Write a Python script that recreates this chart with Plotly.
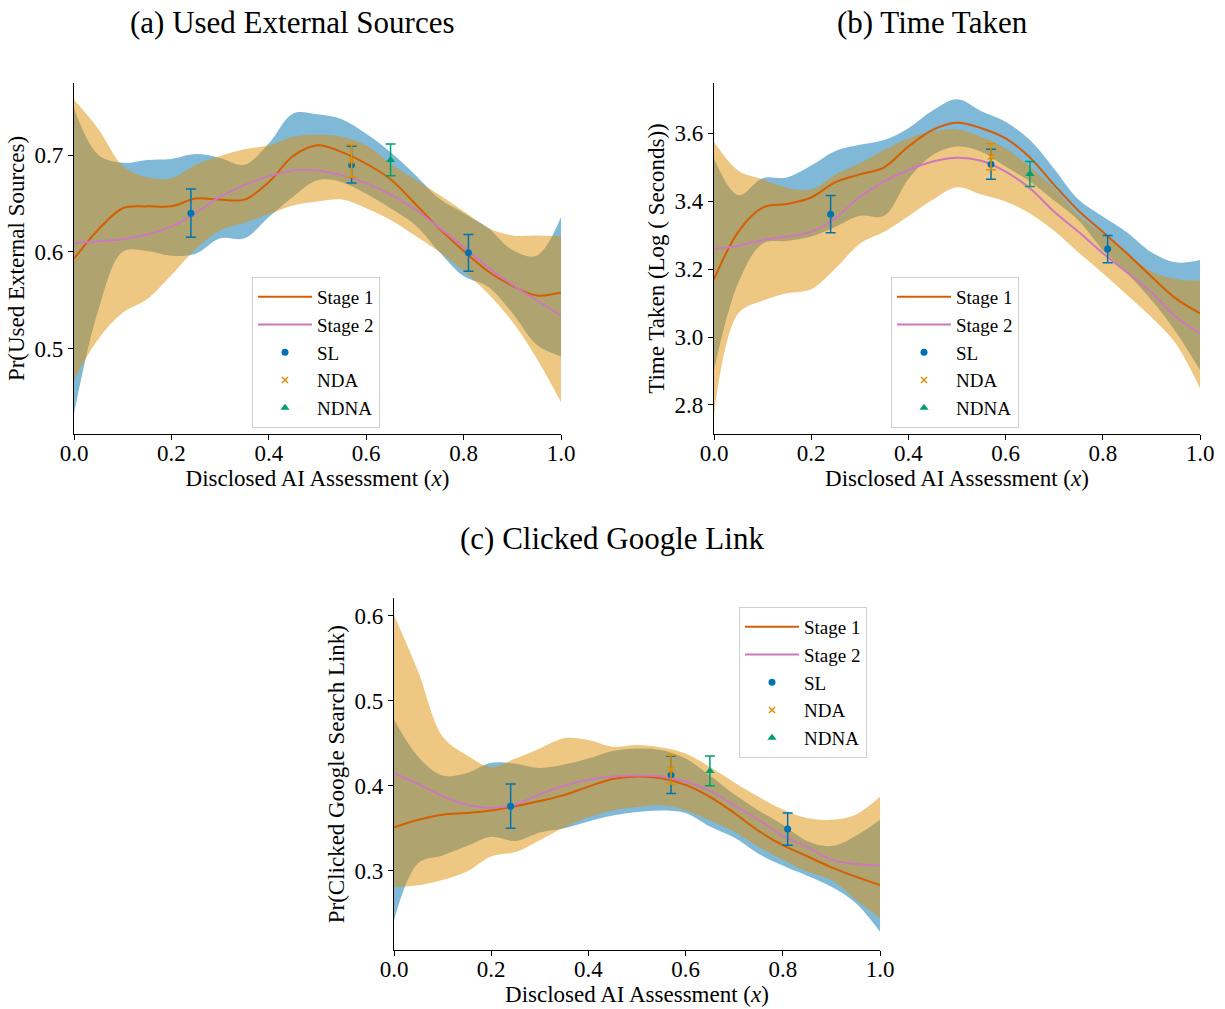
import plotly.graph_objects as go

# ---------------- data ----------------
X = [0.0, 0.05, 0.1, 0.15, 0.2, 0.25, 0.3, 0.35, 0.4, 0.45, 0.5,
     0.55, 0.6, 0.65, 0.7, 0.75, 0.8, 0.85, 0.9, 0.95, 1.0]
PT_X_SL = [0.24, 0.57, 0.81]
PT_X_NDA = [0.57]
PT_X_NDNA = [0.65]

# (a) Used External Sources
A_S1 = [0.593, 0.623, 0.645, 0.647, 0.647, 0.655, 0.654, 0.654, 0.672, 0.699, 0.710,
        0.703, 0.691, 0.675, 0.650, 0.624, 0.601, 0.580, 0.565, 0.555, 0.558]
A_S2 = [0.609, 0.611, 0.613, 0.618, 0.626, 0.640, 0.657, 0.669, 0.678, 0.684, 0.684,
        0.679, 0.671, 0.659, 0.644, 0.625, 0.605, 0.584, 0.566, 0.550, 0.534]
A_S1_HI = [0.748, 0.700, 0.692, 0.695, 0.696, 0.701, 0.697, 0.690, 0.712, 0.743, 0.742,
           0.737, 0.722, 0.703, 0.680, 0.655, 0.640, 0.625, 0.602, 0.596, 0.636]
A_S1_LO = [0.433, 0.540, 0.600, 0.601, 0.596, 0.598, 0.614, 0.614, 0.636, 0.657, 0.674,
           0.672, 0.660, 0.645, 0.628, 0.600, 0.575, 0.564, 0.537, 0.504, 0.492]
A_S2_HI = [0.757, 0.727, 0.689, 0.677, 0.676, 0.690, 0.699, 0.706, 0.710, 0.719, 0.721,
           0.719, 0.710, 0.691, 0.675, 0.659, 0.642, 0.625, 0.617, 0.617, 0.616]
A_S2_LO = [0.468, 0.510, 0.537, 0.551, 0.576, 0.603, 0.622, 0.630, 0.639, 0.648, 0.652,
           0.654, 0.645, 0.633, 0.617, 0.600, 0.580, 0.557, 0.528, 0.490, 0.445]
A_SL = [0.640, 0.690, 0.599]
A_SL_ERR = [0.025, 0.019, 0.019]
A_NDA = [0.694]
A_NDA_ERR = [0.017]
A_NDNA = [0.695]
A_NDNA_ERR = [0.0165]

# (b) Time Taken
B_S1 = [3.170, 3.310, 3.381, 3.392, 3.411, 3.456, 3.479, 3.500, 3.561, 3.610, 3.631,
        3.615, 3.585, 3.529, 3.448, 3.372, 3.310, 3.246, 3.178, 3.114, 3.070]
B_S2 = [3.259, 3.269, 3.286, 3.296, 3.310, 3.350, 3.413, 3.458, 3.492, 3.517, 3.528,
        3.519, 3.487, 3.438, 3.369, 3.310, 3.247, 3.190, 3.132, 3.060, 3.011]
B_S1_HI = [3.526, 3.418, 3.468, 3.470, 3.505, 3.548, 3.566, 3.580, 3.615, 3.667, 3.700,
           3.665, 3.634, 3.580, 3.495, 3.405, 3.355, 3.308, 3.250, 3.220, 3.227]
B_S1_LO = [2.903, 3.160, 3.275, 3.283, 3.296, 3.325, 3.357, 3.357, 3.465, 3.536, 3.561,
           3.546, 3.502, 3.458, 3.402, 3.343, 3.256, 3.188, 3.109, 3.016, 2.903]
B_S2_HI = [3.575, 3.490, 3.465, 3.440, 3.435, 3.479, 3.512, 3.551, 3.585, 3.605, 3.612,
           3.590, 3.556, 3.502, 3.438, 3.359, 3.305, 3.247, 3.193, 3.171, 3.166]
B_S2_LO = [2.775, 3.070, 3.107, 3.129, 3.141, 3.202, 3.275, 3.310, 3.356, 3.404, 3.441,
           3.420, 3.399, 3.364, 3.313, 3.249, 3.188, 3.124, 3.058, 2.981, 2.849]
B_SL = [3.362, 3.509, 3.259]
B_SL_ERR = [0.055, 0.044, 0.040]
B_NDA = [3.531]
B_NDA_ERR = [0.038]
B_NDNA = [3.480]
B_NDNA_ERR = [0.037]

# (c) Clicked Google Link
C_S1 = [0.351, 0.360, 0.366, 0.368, 0.371, 0.376, 0.382, 0.389, 0.399, 0.408, 0.411,
        0.409, 0.401, 0.387, 0.368, 0.347, 0.330, 0.317, 0.304, 0.293, 0.283]
C_S2 = [0.415, 0.402, 0.388, 0.378, 0.374, 0.378, 0.390, 0.400, 0.407, 0.411, 0.412,
        0.411, 0.405, 0.394, 0.377, 0.360, 0.341, 0.328, 0.313, 0.308, 0.306]
C_S1_HI = [0.478, 0.434, 0.412, 0.415, 0.427, 0.426, 0.421, 0.425, 0.432, 0.441, 0.444,
           0.442, 0.432, 0.412, 0.390, 0.371, 0.354, 0.335, 0.329, 0.341, 0.360]
C_S1_LO = [0.242, 0.309, 0.318, 0.329, 0.340, 0.335, 0.345, 0.350, 0.358, 0.365, 0.369,
           0.371, 0.368, 0.352, 0.339, 0.320, 0.306, 0.294, 0.281, 0.262, 0.228]
C_S2_HI = [0.601, 0.534, 0.458, 0.436, 0.422, 0.432, 0.444, 0.456, 0.454, 0.446, 0.448,
           0.445, 0.438, 0.422, 0.404, 0.387, 0.372, 0.362, 0.360, 0.366, 0.387]
C_S2_LO = [0.281, 0.283, 0.289, 0.299, 0.317, 0.322, 0.336, 0.351, 0.363, 0.371, 0.375,
           0.377, 0.371, 0.359, 0.346, 0.328, 0.313, 0.299, 0.289, 0.266, 0.244]
C_SL = [0.376, 0.413, 0.349]
C_SL_ERR = [0.026, 0.022, 0.019]
C_NDA = [0.419]
C_NDA_ERR = [0.017]
C_NDNA = [0.4175]
C_NDNA_ERR = [0.0175]

TITLES = ["(a) Used External Sources", "(b) Time Taken", "(c) Clicked Google Link"]
YLABELS = ["Pr(Used External Sources)", "Time Taken (Log ( Seconds))",
           "Pr(Clicked Google Search Link)"]
XLABEL = "Disclosed AI Assessment (<i>x</i>)"

# ---------------- style ----------------
BLUE = "#0173B2"
ORANGE = "#DE8F05"
GREEN = "#029E73"
VERM = "#D55E00"
PINK = "#CC78BC"
FONT = "Liberation Serif"
TICK_SIZE = 23
LABEL_SIZE = 23

fig = go.Figure()

panels = [
    dict(s1=A_S1, s2=A_S2, s1hi=A_S1_HI, s1lo=A_S1_LO, s2hi=A_S2_HI, s2lo=A_S2_LO,
         sl=A_SL, slerr=A_SL_ERR, nda=A_NDA, ndaerr=A_NDA_ERR, ndna=A_NDNA, ndnaerr=A_NDNA_ERR,
         xa="x", ya="y", leg="legend"),
    dict(s1=B_S1, s2=B_S2, s1hi=B_S1_HI, s1lo=B_S1_LO, s2hi=B_S2_HI, s2lo=B_S2_LO,
         sl=B_SL, slerr=B_SL_ERR, nda=B_NDA, ndaerr=B_NDA_ERR, ndna=B_NDNA, ndnaerr=B_NDNA_ERR,
         xa="x2", ya="y2", leg="legend2"),
    dict(s1=C_S1, s2=C_S2, s1hi=C_S1_HI, s1lo=C_S1_LO, s2hi=C_S2_HI, s2lo=C_S2_LO,
         sl=C_SL, slerr=C_SL_ERR, nda=C_NDA, ndaerr=C_NDA_ERR, ndna=C_NDNA, ndnaerr=C_NDNA_ERR,
         xa="x3", ya="y3", leg="legend3"),
]

for p in panels:
    common = dict(xaxis=p["xa"], yaxis=p["ya"], legend=p["leg"], hoverinfo="skip")
    # confidence bands (Stage 1 blue underneath, Stage 2 orange on top)
    for lo, hi, col in [(p["s1lo"], p["s1hi"], "rgba(1,115,178,0.5)"),
                        (p["s2lo"], p["s2hi"], "rgba(222,143,5,0.5)")]:
        fig.add_trace(go.Scatter(x=X, y=lo, mode="lines", line=dict(width=0, shape="spline"),
                                 showlegend=False, **common))
        fig.add_trace(go.Scatter(x=X, y=hi, mode="lines", line=dict(width=0, shape="spline"),
                                 fill="tonexty", fillcolor=col, showlegend=False, **common))
    fig.add_trace(go.Scatter(x=X, y=p["s1"], mode="lines", name="Stage 1",
                             line=dict(color=VERM, width=2, shape="spline"), **common))
    fig.add_trace(go.Scatter(x=X, y=p["s2"], mode="lines", name="Stage 2",
                             line=dict(color=PINK, width=2, shape="spline"), **common))
    fig.add_trace(go.Scatter(x=PT_X_SL, y=p["sl"], mode="markers", name="SL",
                             marker=dict(color=BLUE, size=7, symbol="circle"),
                             error_y=dict(type="data", array=p["slerr"], color=BLUE, thickness=1.5, width=5),
                             **common))
    fig.add_trace(go.Scatter(x=PT_X_NDA, y=p["nda"], mode="markers", name="NDA",
                             marker=dict(color=ORANGE, size=6, symbol="x-thin", line=dict(color=ORANGE, width=1.5)),
                             error_y=dict(type="data", array=p["ndaerr"], color=ORANGE, thickness=1.5, width=5),
                             **common))
    fig.add_trace(go.Scatter(x=PT_X_NDNA, y=p["ndna"], mode="markers", name="NDNA",
                             marker=dict(color=GREEN, size=8, symbol="triangle-up"),
                             error_y=dict(type="data", array=p["ndnaerr"], color=GREEN, thickness=1.5, width=5),
                             **common))

W, H = 1225, 1009
def dom(a, b, total):
    return [a / total, b / total]

ax_common = dict(showline=True, linecolor="black", linewidth=1.2, ticks="outside", ticklen=5,
                 tickwidth=1.2, tickcolor="black", showgrid=False, zeroline=False, automargin=False,
                 tickfont=dict(family=FONT, size=TICK_SIZE, color="black"), mirror=False)
xcommon = dict(ax_common, range=[0, 1], tickvals=[0, 0.2, 0.4, 0.6, 0.8, 1.0],
               ticktext=["0.0", "0.2", "0.4", "0.6", "0.8", "1.0"], ticklabelstandoff=-7,
               title=dict(text=XLABEL, font=dict(family=FONT, size=LABEL_SIZE, color="black"), standoff=2))

def ytitle(t):
    return dict(text=t, font=dict(family=FONT, size=LABEL_SIZE, color="black"), standoff=3)

legend_common = dict(font=dict(family=FONT, size=19, color="black"), bgcolor="rgba(255,255,255,0.8)",
                     bordercolor="#d0d0d0", borderwidth=1, xanchor="left", yanchor="top",
                     tracegroupgap=0, itemwidth=54, traceorder="normal")

fig.update_layout(
    width=W, height=H, margin=dict(l=0, r=0, t=0, b=0, autoexpand=False),
    plot_bgcolor="white", paper_bgcolor="white",
    font=dict(family=FONT, color="black"),
    xaxis=dict(xcommon, domain=dom(74, 561, W), anchor="y"),
    xaxis2=dict(xcommon, domain=dom(714, 1200, W), anchor="y2"),
    xaxis3=dict(xcommon, domain=dom(394, 880, W), anchor="y3"),
    yaxis=dict(ax_common, range=[0.4116, 0.7747], domain=[(H - 434.3) / H, (H - 82.7) / H],
               tickvals=[0.5, 0.6, 0.7], ticktext=["0.5", "0.6", "0.7"], anchor="x",
               title=ytitle(YLABELS[0])),
    yaxis2=dict(ax_common, range=[2.7137, 3.749], domain=[(H - 434.3) / H, (H - 82.7) / H],
                tickvals=[2.8, 3.0, 3.2, 3.4, 3.6], ticktext=["2.8", "3.0", "3.2", "3.4", "3.6"], anchor="x2",
                title=ytitle(YLABELS[1])),
    yaxis3=dict(ax_common, range=[0.2066, 0.6208], domain=[(H - 950) / H, (H - 598.3) / H],
                tickvals=[0.3, 0.4, 0.5, 0.6], ticktext=["0.3", "0.4", "0.5", "0.6"], anchor="x3",
                title=ytitle(YLABELS[2])),
    legend=dict(legend_common, x=252 / W, y=(H - 277) / H),
    legend2=dict(legend_common, x=891 / W, y=(H - 277) / H),
    legend3=dict(legend_common, x=739 / W, y=(H - 607) / H),
    showlegend=True,
)

for txt, cx, cy in [(TITLES[0], 292, 22), (TITLES[1], 932, 22), (TITLES[2], 612, 538)]:
    fig.add_annotation(text=txt, x=cx / W, y=(H - cy) / H, xref="paper", yref="paper",
                       xanchor="center", yanchor="middle", showarrow=False,
                       font=dict(family=FONT, size=31, color="black"))

fig.write_html("out.html")
